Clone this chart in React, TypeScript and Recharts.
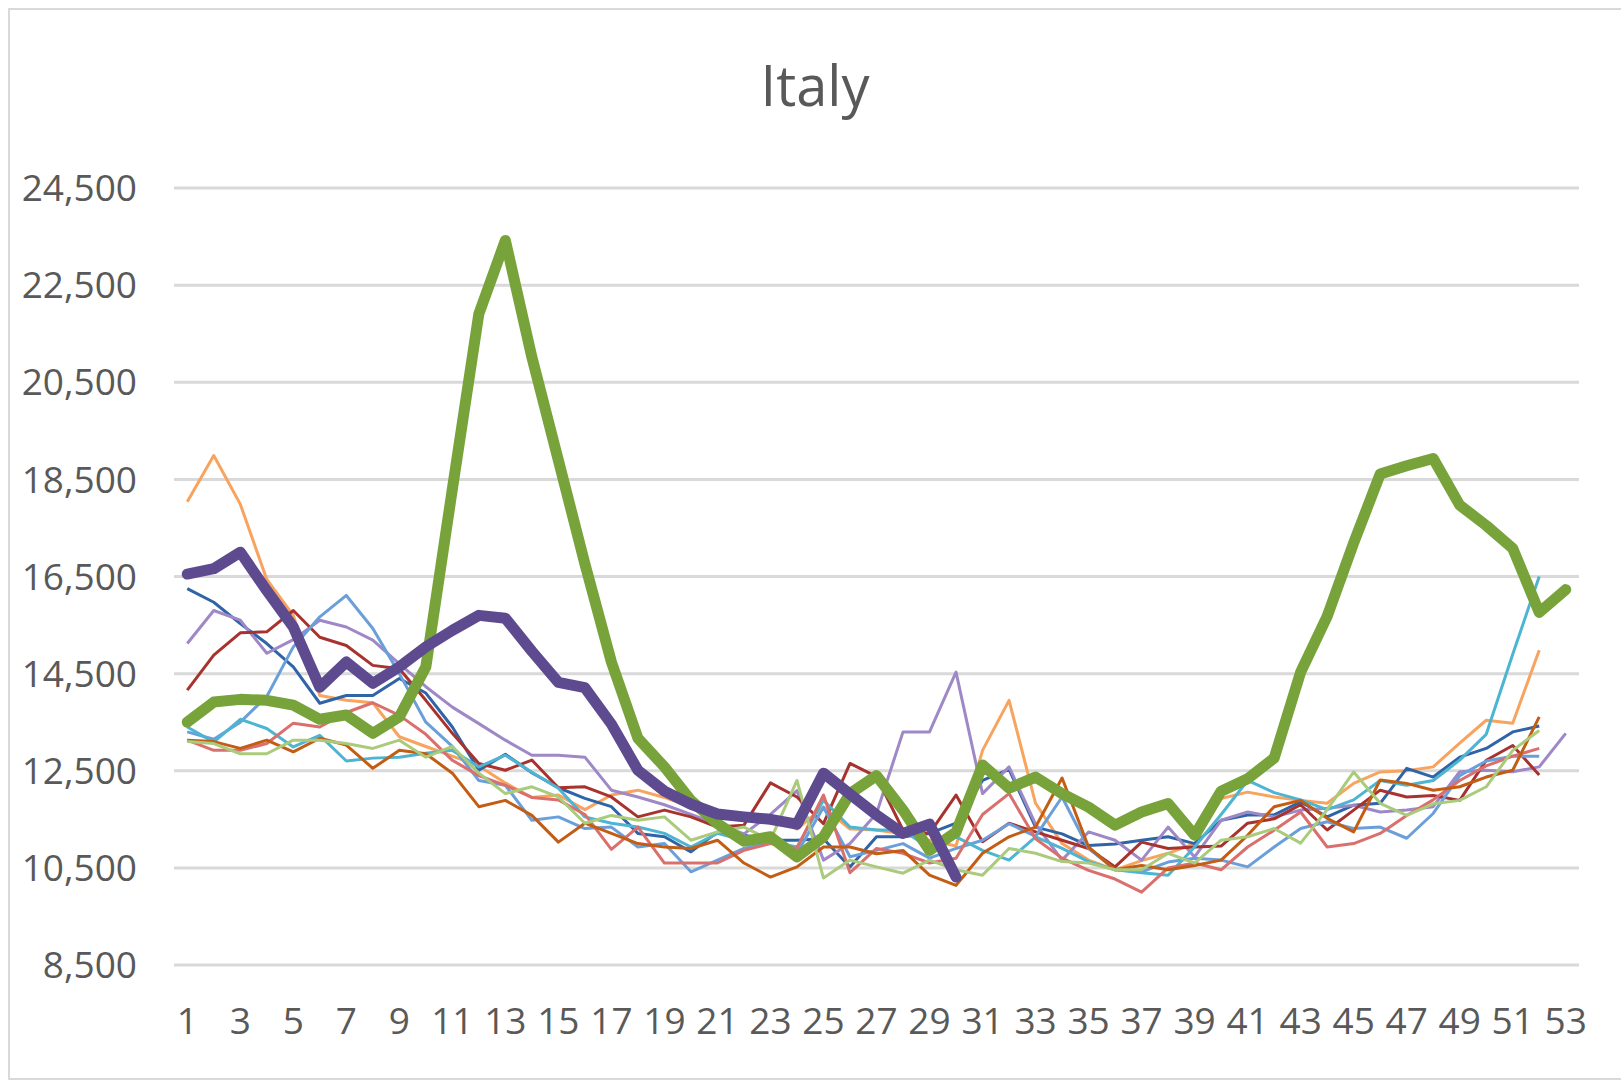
import React from 'react';
import { LineChart, Line, XAxis, YAxis, CartesianGrid } from 'recharts';

const weeks: number[] = Array.from({ length: 53 }, (_, i) => i + 1);
const xTicks: number[] = [1, 3, 5, 7, 9, 11, 13, 15, 17, 19, 21, 23, 25, 27, 29, 31, 33, 35, 37, 39, 41, 43, 45, 47, 49, 51, 53];
const yTicks: number[] = [8500, 10500, 12500, 14500, 16500, 18500, 20500, 22500, 24500];

const orange: number[] = [18040, 18990, 17990, 16440, 15700, 14050, 13950, 13900, 13200, 13000, 12800, 12600, 12250, 11950, 12000, 11700, 12000, 12100, 11950, 11750, 11580, 11480, 11550, 11300, 11750, 11300, 11280, 11200, 11070, 10950, 12920, 13950, 11830, 11000, 10660, 10460, 10650, 10800, 11000, 11930, 12060, 11960, 11890, 11830, 12240, 12475, 12500, 12580, 13070, 13540, 13480, 14980];
const darkBlue: number[] = [16250, 15970, 15530, 15120, 14640, 13890, 14050, 14050, 14400, 14100, 13400, 12510, 12840, 12460, 12150, 11930, 11760, 11210, 11140, 10830, 11240, 11170, 11070, 11070, 11100, 10520, 11140, 11140, 11210, 11420, 12300, 12530, 11340, 11200, 10960, 10990, 11070, 11140, 11000, 11480, 11590, 11590, 11860, 11550, 11790, 11830, 12550, 12370, 12780, 12960, 13300, 13420];
const lightPurple: number[] = [15120, 15800, 15600, 14920, 15200, 15600, 15460, 15190, 14700, 14230, 13810, 13470, 13130, 12820, 12820, 12780, 12100, 11960, 11800, 11600, 11400, 11200, 11600, 12090, 10660, 11000, 11620, 13300, 13300, 14530, 12030, 12580, 11400, 10660, 11240, 11070, 10660, 11340, 10725, 11480, 11650, 11550, 11690, 11730, 11790, 11650, 11690, 11760, 12480, 12510, 12480, 12580, 13270];
const darkRed: number[] = [14160, 14880, 15340, 15360, 15800, 15250, 15080, 14670, 14600, 13950, 13270, 12650, 12510, 12720, 12150, 12170, 11960, 11550, 11690, 11550, 11340, 11380, 12250, 11960, 11410, 12650, 12380, 11280, 11210, 12000, 11040, 11420, 11240, 11070, 10900, 10520, 11030, 10900, 10930, 10950, 11420, 11510, 11800, 11280, 11690, 12100, 11960, 11990, 11890, 12715, 13020, 12410];
const lightBlue: number[] = [13300, 13150, 13500, 14030, 15050, 15670, 16110, 15430, 14500, 13500, 13000, 12300, 12200, 11480, 11550, 11310, 11340, 10930, 11000, 10420, 10660, 10900, 11040, 10800, 11750, 10730, 10860, 11000, 10700, 10900, 11070, 11410, 11150, 11960, 10900, 10460, 10420, 10620, 10700, 10660, 10520, 10930, 11310, 11450, 11310, 11340, 11110, 11620, 12400, 12700, 12800, 12800];
const aqua: number[] = [13400, 13090, 13560, 13370, 12990, 13230, 12700, 12760, 12780, 12860, 12920, 12580, 12820, 12470, 12140, 11550, 11420, 11340, 11210, 10930, 11210, 11070, 11040, 10930, 11890, 11340, 11280, 11280, 10900, 11140, 10860, 10660, 11140, 10900, 10630, 10460, 10400, 10350, 10930, 11600, 12300, 12050, 11900, 11700, 11900, 12300, 12200, 12300, 12720, 13250, 14900, 16500];
const lightRed: number[] = [13130, 12920, 12920, 13060, 13480, 13400, 13700, 13900, 13640, 13250, 12715, 12400, 12200, 11950, 11900, 11600, 10880, 11340, 10600, 10600, 10600, 10860, 11000, 10900, 12000, 10400, 10900, 10800, 10600, 10700, 11600, 12030, 11100, 10700, 10450, 10270, 10000, 10500, 10600, 10460, 10930, 11275, 11650, 10930, 11000, 11210, 11580, 11900, 12300, 12600, 12800, 12960];
const darkOrange: number[] = [13130, 13100, 12960, 13130, 12890, 13170, 13030, 12550, 12920, 12850, 12450, 11760, 11890, 11580, 11030, 11420, 11210, 11000, 10930, 10900, 11070, 10600, 10310, 10520, 10930, 10930, 10790, 10860, 10350, 10140, 10800, 11140, 11340, 12350, 10930, 10460, 10550, 10460, 10550, 10660, 11170, 11760, 11890, 11520, 11240, 12310, 12240, 12100, 12170, 12370, 12510, 13610];
const lightGreen: number[] = [13100, 13060, 12850, 12850, 13130, 13130, 13060, 12960, 13130, 12780, 13000, 12450, 12030, 12170, 11960, 11420, 11580, 11480, 11550, 11070, 11240, 11340, 11070, 12300, 10290, 10660, 10520, 10390, 10660, 10460, 10350, 10900, 10800, 10630, 10600, 10460, 10460, 10800, 10600, 11070, 11140, 11310, 11010, 11700, 12475, 11830, 11580, 11820, 11890, 12170, 12920, 13330];
const y2020: number[] = [13500, 13915, 13970, 13950, 13850, 13560, 13650, 13270, 13610, 14640, 18300, 21910, 23420, 21015, 18890, 16760, 14740, 13170, 12580, 11890, 11410, 11050, 11140, 10725, 11140, 12030, 12400, 11690, 10860, 11240, 12620, 12140, 12370, 12030, 11750, 11380, 11650, 11825, 11170, 12080, 12335, 12760, 14530, 15680, 17190, 18610, 18780, 18930, 17970, 17550, 17080, 15760, 16230];
const y2021: number[] = [16550, 16660, 17000, 16210, 15460, 14220, 14740, 14300, 14640, 15050, 15390, 15700, 15640, 14960, 14320, 14210, 13460, 12510, 12080, 11810, 11610, 11550, 11500, 11400, 12450, 12020, 11590, 11210, 11400, 10310];

const thinSeries = [
  { key: 'orange', values: orange, color: '#F8A35E' },
  { key: 'darkBlue', values: darkBlue, color: '#2F64A6' },
  { key: 'lightPurple', values: lightPurple, color: '#9E88C6' },
  { key: 'darkRed', values: darkRed, color: '#A8322E' },
  { key: 'lightBlue', values: lightBlue, color: '#6A9FDA' },
  { key: 'aqua', values: aqua, color: '#4DB5D1' },
  { key: 'lightRed', values: lightRed, color: '#DA706D' },
  { key: 'darkOrange', values: darkOrange, color: '#C35D14' },
  { key: 'lightGreen', values: lightGreen, color: '#AACB7C' },
];

const data = weeks.map((w, i) => {
  const row: Record<string, number | undefined> = { week: w };
  thinSeries.forEach((s) => {
    row[s.key] = s.values[i];
  });
  row.y2020 = y2020[i];
  row.y2021 = y2021[i];
  return row;
});

const fmt = (v: number) => v.toLocaleString('en-US');
const tickStyle = { fontSize: 37, fill: '#595959', fontFamily: 'Open Sans' };

export default function App() {
  return (
    <div style={{ position: 'absolute', left: 0, top: 0, width: 1621, height: 1086, background: '#fff', overflow: 'hidden' }}>
      <div
        style={{
          position: 'absolute',
          left: 8,
          top: 8,
          width: 1613,
          height: 1072,
          border: '2px solid #D9D9D9',
          borderRight: 'none',
          boxSizing: 'border-box',
        }}
      />
      <div
        style={{
          position: 'absolute',
          left: 215,
          top: 56,
          width: 1200,
          textAlign: 'center',
          fontFamily: 'Open Sans',
          fontSize: 56,
          lineHeight: '56px',
          color: '#595959',
        }}
      >
        Italy
      </div>
      <div style={{ position: 'absolute', left: 0, top: 0 }}>
        <LineChart width={1621} height={1086} data={data} margin={{ top: 188, right: 42, bottom: 61, left: 0 }}>
          <CartesianGrid vertical={false} stroke="#D9D9D9" strokeWidth={3} />
          <XAxis
            dataKey="week"
            type="number"
            domain={[0.5, 53.5]}
            ticks={xTicks}
            interval={0}
            axisLine={false}
            tickLine={false}
            tickSize={0}
            tickMargin={43}
            height={60}
            tick={tickStyle}
          />
          <YAxis
            type="number"
            domain={[8500, 24500]}
            ticks={yTicks}
            interval={0}
            axisLine={false}
            tickLine={false}
            tickSize={0}
            tickMargin={37}
            width={174}
            tickFormatter={fmt}
            tick={tickStyle}
          />
          {thinSeries.map((s) => (
            <Line
              key={s.key}
              dataKey={s.key}
              stroke={s.color}
              strokeWidth={3}
              dot={false}
              activeDot={false}
              isAnimationActive={false}
              strokeLinejoin="round"
            />
          ))}
          <Line dataKey="y2020" stroke="#77A33A" strokeWidth={11} dot={false} activeDot={false} isAnimationActive={false} strokeLinejoin="round" strokeLinecap="round" />
          <Line dataKey="y2021" stroke="#5E4A8F" strokeWidth={11} dot={false} activeDot={false} isAnimationActive={false} strokeLinejoin="round" strokeLinecap="round" />
        </LineChart>
      </div>
    </div>
  );
}
